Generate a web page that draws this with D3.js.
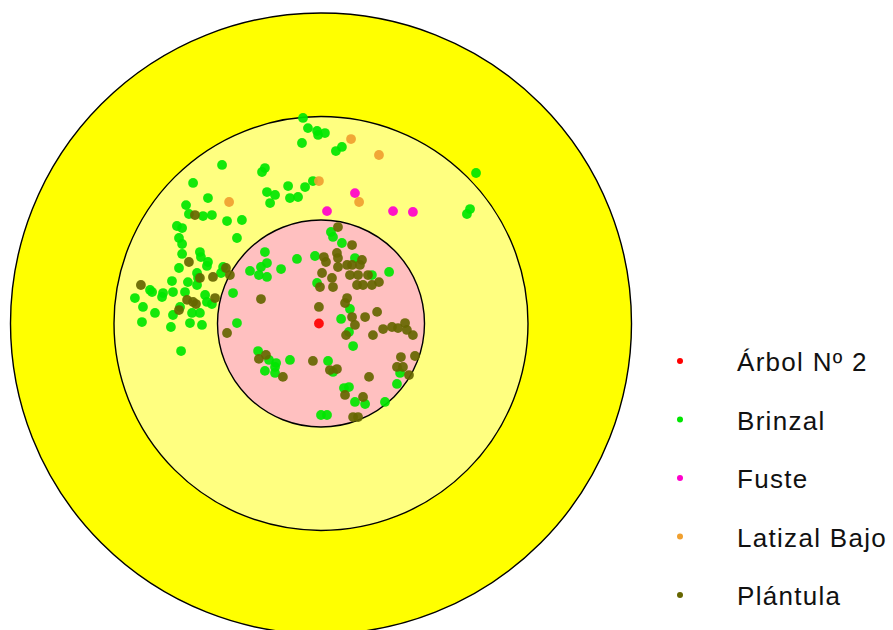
<!DOCTYPE html>
<html>
<head>
<meta charset="utf-8">
<script src="https://cdn.jsdelivr.net/npm/d3@7"></script>
<style>
  html, body { margin: 0; padding: 0; background: #ffffff; }
  svg { display: block; }
</style>
</head>
<body>
<svg id="chart" width="893" height="630"></svg>
<script>
// ---- Data (metres from plot centre) ----
const categories = ["Árbol Nº 2", "Brinzal", "Fuste", "Latizal Bajo", "Plántula"];
const ringRadii = [15, 10, 5];

const arbol = [[-0.10, 0.00]];

const brinzal = [
  [-4.78,7.66],[-6.18,6.79],[-5.46,6.06],[-6.52,5.72],[-6.38,5.29],[-5.70,5.19],[-5.27,5.24],
  [-0.87,9.93],[-0.63,9.44],[-0.19,9.30],[-0.14,9.11],[0.19,9.20],[-0.92,8.72],[1.01,8.53],[0.72,8.33],
  [-2.71,7.51],[-2.85,7.32],[-1.59,6.64],[-0.77,6.59],[-0.39,6.88],[-2.61,6.35],[-2.22,6.21],[-2.46,5.82],
  [-1.50,6.06],[-1.11,6.11],[7.49,7.27],[7.20,5.53],[7.05,5.29],
  [-4.54,4.95],[-3.82,5.00],[-6.96,4.71],[-6.71,4.61],[-4.06,4.13],[-6.86,4.13],[-6.71,3.84],[-6.71,3.36],
  [-5.85,3.45],[-5.80,3.21],[-5.46,2.97],[-5.51,2.78],[-6.86,2.68],[-4.73,2.73],[-4.83,2.44],[-5.99,2.44],
  [-5.94,2.20],[-7.20,2.05],[-6.43,2.00],[-5.99,1.86],[-8.26,1.62],[-8.16,1.52],[-7.63,1.47],[-7.68,1.28],
  [-7.15,1.52],[-6.57,1.52],[-8.99,1.23],[-5.60,1.38],[-5.51,1.04],[-5.27,0.94],[-4.25,1.47],[-8.60,0.80],
  [-6.81,0.80],[-8.02,0.51],[-7.15,0.41],[-6.23,0.51],[-5.85,0.51],[-8.65,0.07],[-7.25,-0.17],[-6.33,0.02],
  [-5.75,-0.07],[-4.06,0.02],[-6.76,-1.33],
  [0.48,4.42],[0.58,4.18],[1.01,3.89],[-2.71,3.45],[-2.61,2.92],[-2.90,2.73],[-3.43,2.54],[-3.00,2.34],
  [-2.61,2.25],[-1.93,2.63],[-1.16,3.12],[-0.29,3.26],[1.64,3.16],[-0.19,1.96],[1.40,0.70],[0.97,0.22],
  [3.29,2.49],[2.46,2.34],[1.35,-0.41],[1.55,-1.09],[-3.04,-1.33],[-2.51,-1.76],[-2.17,-1.91],[-2.22,-2.10],
  [-2.71,-2.29],[-2.22,-2.39],[-1.50,-1.76],[0.34,-1.81],[0.58,-2.34],[1.11,-3.12],[1.35,-3.07],[1.64,-3.79],
  [2.13,-3.89],[0.00,-4.42],[0.29,-4.42],[3.82,-2.39],[3.67,-2.92],[3.09,-3.79]
];

const fuste = [[1.64,6.30],[0.29,5.43],[3.48,5.43],[4.44,5.39]];

const latizalBajo = [[-4.44,5.87],[1.45,8.91],[2.80,8.14],[-0.10,6.88],[1.84,5.87]];

const plantula = [
  [-6.09,5.24],[-6.38,2.97],[-4.59,2.68],[-4.40,2.34],[-5.22,2.25],[-5.85,2.20],[-8.70,1.86],[-6.47,1.14],
  [-6.18,1.04],[-6.04,0.94],[-5.12,1.23],[-6.86,0.65],[-4.54,-0.46],
  [0.82,4.66],[1.50,3.79],[0.14,3.21],[0.24,2.97],[0.77,3.41],[0.82,3.16],[0.82,2.73],[1.26,2.83],[1.50,2.83],
  [1.98,3.07],[1.88,2.83],[1.40,2.34],[1.79,2.34],[2.27,2.34],[0.05,2.44],[0.53,2.20],[-0.05,1.76],[0.58,1.76],
  [1.74,1.86],[2.03,1.86],[-2.90,1.18],[-0.10,0.80],[1.26,1.23],[1.16,0.99],[1.50,0.31],[1.64,-0.07],[2.13,0.31],
  [2.71,0.56],[2.51,-0.56],[3.00,-0.27],[3.43,-0.17],[3.72,-0.22],[4.06,0.02],[4.15,-0.31],[4.44,-0.56],
  [2.80,2.00],[2.46,1.86],[1.21,-0.56],[-3.00,-1.71],[-2.66,-1.52],[-1.84,-2.58],[-0.39,-1.81],[0.43,-2.25],
  [0.77,-2.20],[2.32,-2.58],[1.16,-3.45],[2.03,-3.55],[1.55,-4.52],[1.79,-4.52],[4.54,-1.57],[3.86,-1.62],
  [3.67,-2.10],[3.96,-2.10],[4.25,-2.49]
];

// ---- Styles ----
const ringFill = ["#ffff00", "#ffff80", "#ffc0c0"];
const catColor = {
  "Árbol Nº 2": "#ff0000",
  "Brinzal": "#00e600",
  "Fuste": "#ff00cc",
  "Latizal Bajo": "#f0a030",
  "Plántula": "#666600"
};

const svg = d3.select("#chart");
const cx = 321, cy = 323.5, R = 310.5;
const x = d3.scaleLinear().domain([-15, 15]).range([cx - R, cx + R]);
const y = d3.scaleLinear().domain([-15, 15]).range([cy + R, cy - R]);
const rs = d3.scaleLinear().domain([0, 15]).range([0, R]);

svg.append("g").selectAll("circle")
  .data(ringRadii)
  .join("circle")
  .attr("cx", x(0)).attr("cy", y(0))
  .attr("r", d => rs(d))
  .attr("fill", (d, i) => ringFill[i])
  .attr("stroke", "#000")
  .attr("stroke-width", 1.4);

const layers = [
  ["Brinzal", brinzal],
  ["Plántula", plantula],
  ["Latizal Bajo", latizalBajo],
  ["Fuste", fuste],
  ["Árbol Nº 2", arbol]
];
layers.forEach(([name, pts]) => {
  svg.append("g").selectAll("circle")
    .data(pts)
    .join("circle")
    .attr("cx", d => x(d[0]))
    .attr("cy", d => y(d[1]))
    .attr("r", 4.9)
    .attr("fill", catColor[name])
    .attr("fill-opacity", 0.92);
});

// ---- Legend ----
const ly = d3.scalePoint().domain(categories).range([361, 595]);
const leg = svg.append("g");
leg.selectAll("circle")
  .data(categories)
  .join("circle")
  .attr("cx", 680)
  .attr("cy", d => ly(d))
  .attr("r", 3)
  .attr("fill", d => catColor[d]);
leg.selectAll("text")
  .data(categories)
  .join("text")
  .attr("x", 737)
  .attr("y", d => ly(d) + 10)
  .attr("font-family", "Liberation Sans, Arial, sans-serif")
  .attr("font-size", 26)
  .attr("letter-spacing", 1.3)
  .attr("fill", "#111")
  .text(d => d);
</script>
</body>
</html>
